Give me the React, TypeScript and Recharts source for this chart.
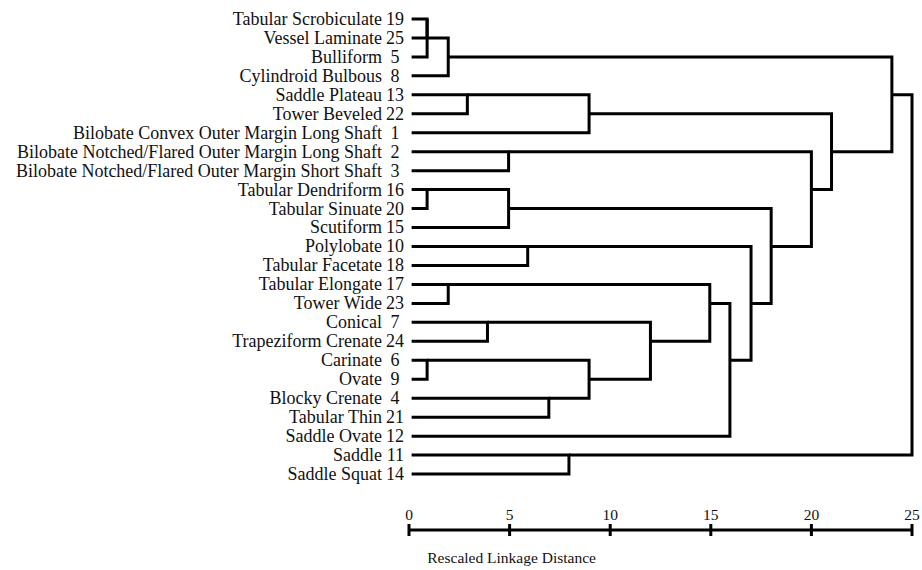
import React from 'react';
import { ComposedChart, Scatter, XAxis, YAxis } from 'recharts';

// leaves, top to bottom as they appear in the dendrogram
const LEAF_NAMES = [
  'Tabular Scrobiculate',
  'Vessel Laminate',
  'Bulliform',
  'Cylindroid Bulbous',
  'Saddle Plateau',
  'Tower Beveled',
  'Bilobate Convex Outer Margin Long Shaft',
  'Bilobate Notched/Flared Outer Margin Long Shaft',
  'Bilobate Notched/Flared Outer Margin Short Shaft',
  'Tabular Dendriform',
  'Tabular Sinuate',
  'Scutiform',
  'Polylobate',
  'Tabular Facetate',
  'Tabular Elongate',
  'Tower Wide',
  'Conical',
  'Trapeziform Crenate',
  'Carinate',
  'Ovate',
  'Blocky Crenate',
  'Tabular Thin',
  'Saddle Ovate',
  'Saddle',
  'Saddle Squat',
];
const LEAF_IDS = [19, 25, 5, 8, 13, 22, 1, 2, 3, 16, 20, 15, 10, 18, 17, 23, 7, 24, 6, 9, 4, 21, 12, 11, 14];

// [left, right, rescaled distance]; a value >= 0 is a leaf row, -k is merge k-1
const MERGES: [number, number, number][] = [
  [0, 1, 0.9],
  [18, 19, 0.9],
  [9, 10, 0.9],
  [-1, 2, 0.9],
  [-4, 3, 1.95],
  [14, 15, 1.95],
  [4, 5, 2.9],
  [16, 17, 3.9],
  [7, 8, 4.95],
  [-3, 11, 4.95],
  [12, 13, 5.9],
  [20, 21, 6.95],
  [23, 24, 7.95],
  [-7, 6, 8.95],
  [-2, -12, 8.95],
  [-8, -15, 12],
  [-6, -16, 14.95],
  [-17, 22, 15.95],
  [-11, -18, 17],
  [-10, -19, 18],
  [-9, -20, 20],
  [-14, -21, 21],
  [-5, -22, 24],
  [-23, -13, 25],
];

const DISTANCE_TICKS = [0, 5, 10, 15, 20, 25];
const LEAF_START = 0.13;
const FONT = '"Liberation Serif", "Times New Roman", serif';

type Pt = { x: number; y: number };
const nodes: Pt[] = [];
const nodeAt = (ref: number): Pt => (ref >= 0 ? { x: LEAF_START, y: ref } : nodes[-ref - 1]);
const links: Pt[][] = MERGES.map(([a, b, h]) => {
  const A = nodeAt(a);
  const B = nodeAt(b);
  nodes.push({ x: h, y: Math.floor((A.y + B.y) / 2) });
  return [
    { x: A.x, y: A.y },
    { x: h, y: A.y },
    { x: h, y: B.y },
    { x: B.x, y: B.y },
  ];
});

const rows = LEAF_NAMES.map((_, i) => i);

function LeafTick({ x, y, payload }: any) {
  const row = payload.value as number;
  const id = LEAF_IDS[row];
  if (id === undefined) return null;
  return (
    <g fontFamily={FONT} fontSize={18} fill="#111">
      <text x={x - 27} y={y} dy="0.33em" textAnchor="end">
        {LEAF_NAMES[row]}
      </text>
      <text x={x - (id < 10 ? 9.5 : 5)} y={y} dy="0.33em" textAnchor="end">
        {id}
      </text>
    </g>
  );
}

function DistanceTick({ x, y, payload }: any) {
  return (
    <g>
      <line x1={x} x2={x} y1={y - 6} y2={y + 6} stroke="#000" strokeWidth={3} />
      <text x={x} y={y - 10} textAnchor="middle" fontFamily={FONT} fontSize={15.5} fill="#111">
        {payload.value}
      </text>
    </g>
  );
}

function AxisTitle({ viewBox }: any) {
  if (!viewBox) return null;
  return (
    <text
      x={viewBox.x + (viewBox.width * 5.1) / 25}
      y={viewBox.y + 33}
      textAnchor="middle"
      fontFamily={FONT}
      fontSize={15.5}
      fill="#111"
    >
      Rescaled Linkage Distance
    </text>
  );
}

const NoDot = () => <g />;

export default function App() {
  return (
    <div style={{ position: 'absolute', left: 0, top: 0, background: '#fff' }}>
      <ComposedChart width={922} height={570} margin={{ top: 0, right: 10, bottom: 0, left: 0 }}>
        <XAxis
          type="number"
          dataKey="x"
          domain={[0, 25]}
          ticks={DISTANCE_TICKS}
          interval={0}
          height={40}
          axisLine={{ stroke: '#000', strokeWidth: 3 }}
          tickLine={false}
          tickSize={0}
          tickMargin={0}
          tick={<DistanceTick />}
          label={<AxisTitle />}
        />
        <YAxis
          type="number"
          dataKey="y"
          domain={[-1, 26.95]}
          reversed
          ticks={rows}
          interval={0}
          width={409}
          axisLine={false}
          tickLine={false}
          tickSize={0}
          tickMargin={0}
          tick={<LeafTick />}
        />
        {links.map((pts, i) => (
          <Scatter
            key={i}
            data={pts}
            line={{ stroke: '#000', strokeWidth: 3 }}
            lineJointType="linear"
            shape={NoDot}
            isAnimationActive={false}
          />
        ))}
      </ComposedChart>
    </div>
  );
}
